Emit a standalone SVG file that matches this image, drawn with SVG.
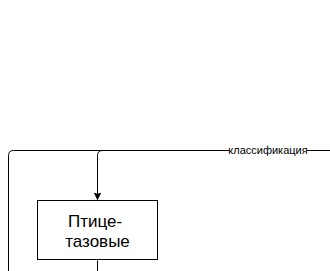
<svg xmlns="http://www.w3.org/2000/svg" width="330" height="271" viewBox="0 0 330 271">
  <style>
    .edge { fill: none; stroke: #000; stroke-width: 1; }
    .node { fill: #fff; stroke: #000; stroke-width: 1; }
    .label { font-family: "Liberation Sans", Arial, sans-serif; fill: #000; }
  </style>
  <defs>
    <marker id="arrow" viewBox="0 0 10 10" refX="10" refY="5" markerWidth="7" markerHeight="7" markerUnits="userSpaceOnUse" orient="auto">
      <path d="M0,0 L10,5 L0,10 L3,5 Z" fill="#000" stroke="#000"/>
    </marker>
  </defs>
  <rect width="330" height="271" fill="#fff"/>
  <g id="connectors">
    <path class="edge" d="M330,150.5 H13.5 Q8.5,150.5 8.5,155.5 V271"/>
    <path class="edge" d="M102.5,150.5 Q97.5,150.5 97.5,155.5 V199.5" marker-end="url(#arrow)"/>
    <path class="edge" d="M97.5,260.5 V271"/>
    <rect x="229" y="145" width="78" height="11" fill="#fff"/>
    <text class="label" x="268" y="154" font-size="11" text-anchor="middle">классификация</text>
  </g>
  <g id="node-ptitsetazovye">
    <rect class="node" x="37.5" y="200.5" width="120" height="59"/>
    <text class="label" font-size="17" text-anchor="middle">
      <tspan x="97.5" y="227">Птице-</tspan>
      <tspan x="97.5" y="247">тазовые</tspan>
    </text>
  </g>
</svg>
